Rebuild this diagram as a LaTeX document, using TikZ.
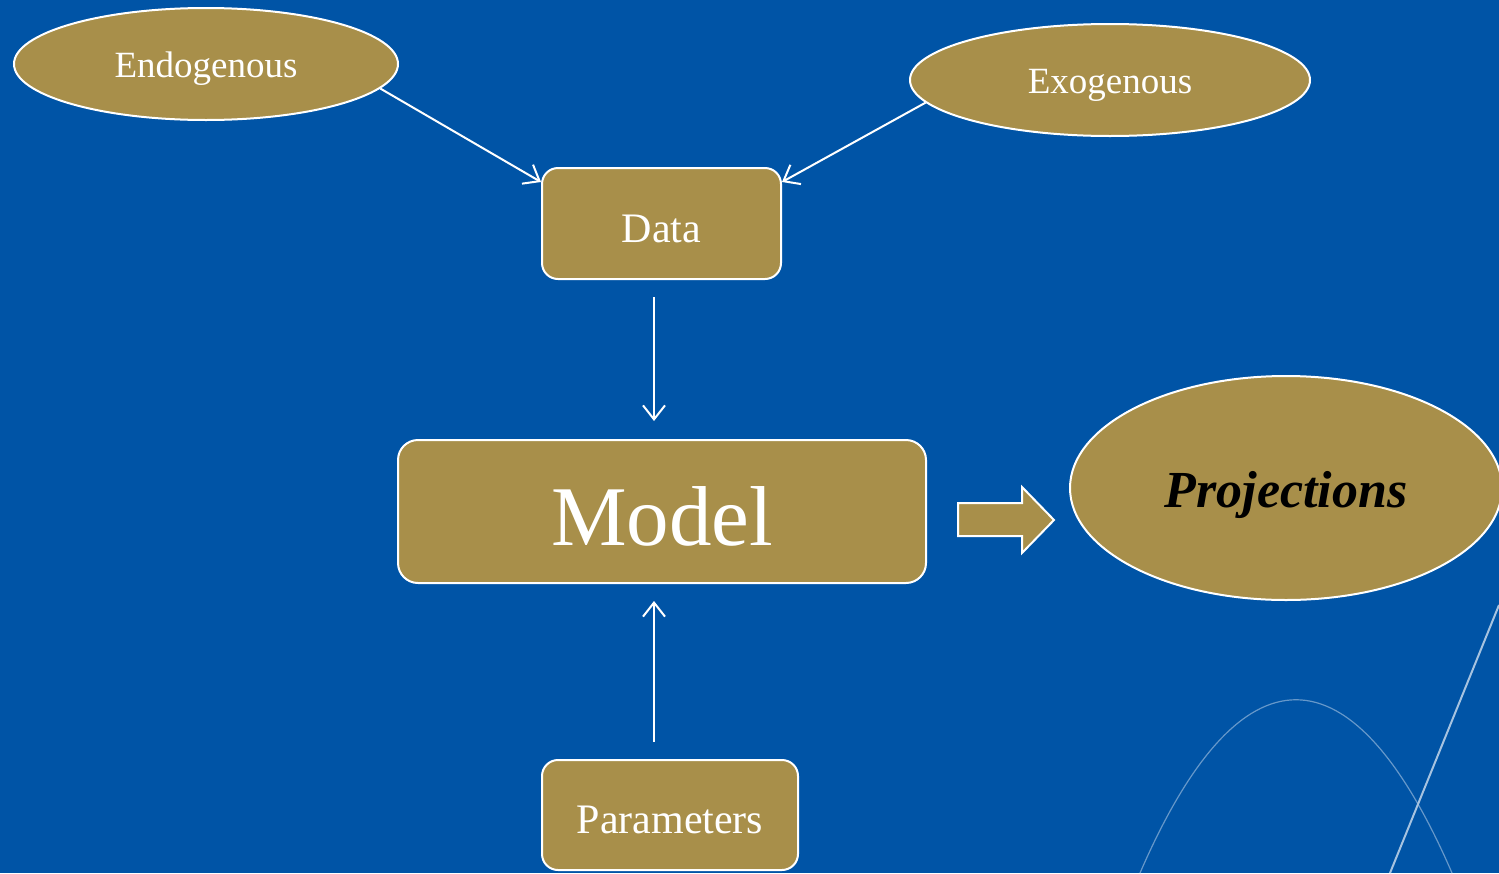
\documentclass[tikz,border=0pt]{standalone}
\usepackage{fontspec}
\setmainfont{Liberation Serif}
\usetikzlibrary{arrows.meta,shapes.geometric}

\definecolor{slideblue}{HTML}{0054A6}
\definecolor{gold}{HTML}{A88F4A}
\tikzset{
  box/.style={draw=white, line width=2pt, fill=gold, rounded corners=16pt, text=white, inner sep=0pt, text depth=0pt},
  oval/.style={draw=white, line width=2pt, fill=gold, ellipse, text=white, inner sep=0pt, text depth=0pt},
  feed/.style={white, line width=2pt, -{Straight Barb[length=14pt,width=22pt,line width=2pt]}},
}

\begin{document}
\begin{tikzpicture}[x=1pt,y=-1pt]

\fill[slideblue] (0,0) rectangle (1499,873);
\useasboundingbox (0,0) rectangle (1499,873);
% background lines
\draw[color=slideblue!60!white, line width=1.2pt] (1140,873) .. controls (1240,642) and (1352,642) .. (1452,873);
\draw[color=slideblue!35!white, line width=2pt] (1499,605) -- (1390,873);

\node[oval, minimum width=384pt, minimum height=112pt, text height=27pt, font=\fontsize{37}{40}\selectfont] (endo) at (206,64) {Endogenous};
\node[oval, minimum width=400pt, minimum height=112pt, text height=27pt, font=\fontsize{37}{40}\selectfont] (exo) at (1110,80) {Exogenous};
\node[box, minimum width=239pt, minimum height=111pt, text height=37pt, font=\fontsize{42}{45}\selectfont] (data) at (661.5,223.5) {Data};
\node[box, rounded corners=20pt, minimum width=528pt, minimum height=143pt, text height=68pt, font=\fontsize{85}{90}\selectfont] (model) at (662,511.5) {Model};
\node[oval, minimum width=432pt, minimum height=224pt, text=black, text height=38pt, font=\fontsize{52}{56}\selectfont\bfseries\itshape] (proj) at (1286,488) {Projections};
\node[box, minimum width=256pt, minimum height=110pt, text height=37pt, font=\fontsize{42}{45}\selectfont] (param) at (670,815) {Parameters};

% block arrow
\draw[white, line width=2pt, fill=gold] (958,503) -- (1022,503) -- (1022,487) -- (1054,520) -- (1022,553) -- (1022,536) -- (958,536) -- cycle;

\draw[feed] (endo.-8) -- ([yshift=-15pt]data.north west);
\draw[feed] (exo.187) -- ([yshift=-15pt]data.north east);
\draw[feed, shorten <=17pt, shorten >=18pt] ([xshift=-7.5pt]data.south) -- ([xshift=-8pt]model.north);
\draw[feed, shorten <=17pt, shorten >=17pt] ([xshift=-16pt]param.north) -- ([xshift=-8pt]model.south);

\end{tikzpicture}
\end{document}
